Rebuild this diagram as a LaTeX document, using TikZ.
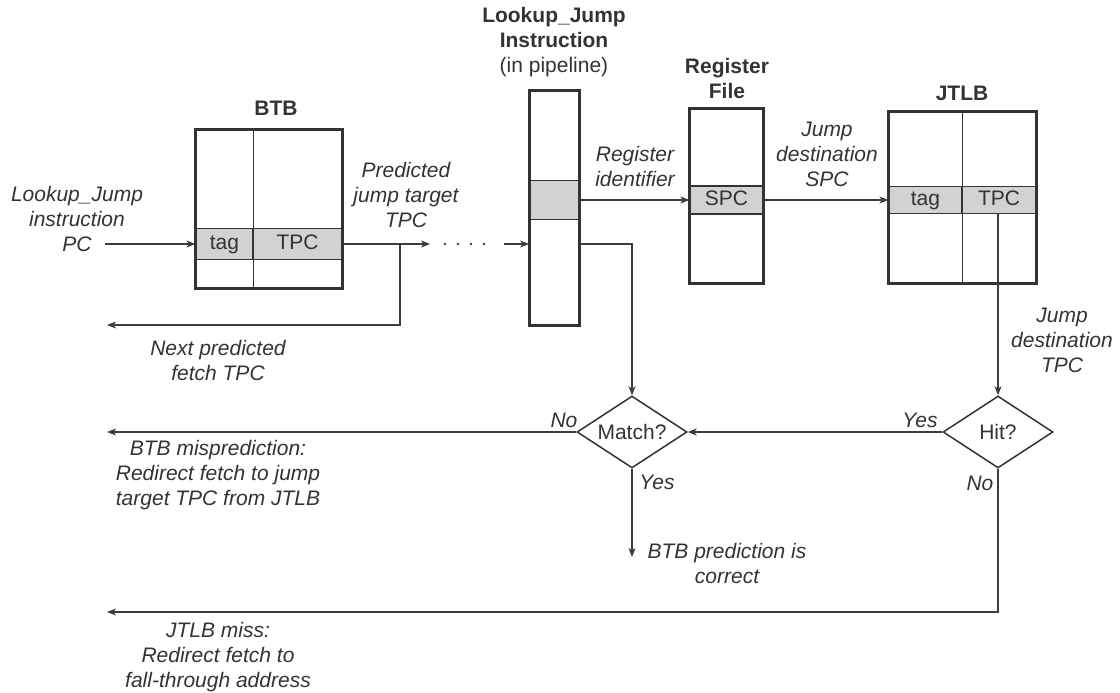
\documentclass[tikz,border=0pt]{standalone}
\usepackage{fontspec}
\setmainfont{Liberation Sans}
\usetikzlibrary{shapes.geometric,arrows.meta}
\definecolor{lc}{HTML}{333333}
\definecolor{ac}{HTML}{3C3C3C}
\definecolor{tc}{HTML}{333333}
\definecolor{cellgray}{HTML}{D2D2D2}
\tikzset{
  outerbox/.style={draw=lc, line width=1.8pt, fill=white, inner sep=0pt},
  cell/.style={draw=lc, line width=1.3pt, fill=cellgray, inner sep=0pt, text=tc,
    text height=15pt, text depth=4pt,
    font=\fontsize{21}{25}\selectfont},
  lbl/.style={align=center, text=tc, inner sep=0pt, font=\fontsize{21}{25}\selectfont\itshape},
  ttl/.style={align=center, text=tc, inner sep=0pt, font=\fontsize{21}{25}\selectfont\bfseries},
  arr/.style={draw=ac, line width=1.1pt, -{Stealth[length=9pt,width=7pt,inset=2.5pt]}},
  ln/.style={draw=ac, line width=1.1pt},
  divline/.style={draw=lc, line width=1.2pt},
  dec/.style={diamond, draw=lc, line width=1.5pt, fill=white, aspect=1.53,
    minimum width=110pt, minimum height=72pt, inner sep=0pt, text=tc,
    font=\fontsize{21}{25}\selectfont},
}
\begin{document}
\begin{tikzpicture}[x=1pt,y=-1pt]
\useasboundingbox (0,0) rectangle (1120,693);

% ---------- BTB ----------
\node[outerbox, minimum width=146pt, minimum height=158pt] (btb) at (269,209) {};
\node[cell, minimum width=57pt, minimum height=31pt] (btbtag) at (224.5,244) {tag};
\node[cell, minimum width=89pt, minimum height=31pt] (btbtpc) at (297.5,244) {TPC};
\draw[divline] (btbtag.east |- btb.north) -- (btbtag.east |- btb.south);
\draw[lc, line width=1.8pt] (btb.north west) rectangle (btb.south east);
\node[ttl] (btbttl) at (276,108) {BTB};

% ---------- Pipeline ----------
\node[outerbox, minimum width=49pt, minimum height=234pt] (pipe) at (554.5,208) {};
\node[cell, minimum width=49pt, minimum height=39pt] (pipeg) at (554.5,200) {};
\draw[lc, line width=1.8pt] (pipe.north west) rectangle (pipe.south east);
\node[ttl] (pipettl) at (554,42) {Lookup\_Jump\\Instruction\\\mdseries(in pipeline)};

% ---------- Register file ----------
\node[outerbox, minimum width=73pt, minimum height=174pt] (rf) at (726.5,196) {};
\node[cell, minimum width=73pt, minimum height=28pt] (spc) at (726.5,200) {SPC};
\draw[lc, line width=1.8pt] (rf.north west) rectangle (rf.south east);
\node[ttl] (rfttl) at (727,78) {Register\\File};

% ---------- JTLB ----------
\node[outerbox, minimum width=147pt, minimum height=171pt] (jtlb) at (962.5,197.5) {};
\node[cell, minimum width=73pt, minimum height=27pt] (jtag) at (925.5,200) {tag};
\node[cell, minimum width=74pt, minimum height=27pt] (jtpc) at (999,200) {TPC};
\draw[divline] (jtag.east |- jtlb.north) -- (jtag.east |- jtlb.south);
\draw[lc, line width=1.8pt] (jtlb.north west) rectangle (jtlb.south east);
\node[ttl] (jtlbttl) at (962,93) {JTLB};

% ---------- Decisions ----------
\node[dec] (match) at (632,432) {Match?};
\node[dec] (hit) at (998,432) {Hit?};

% ---------- Labels ----------
\node[lbl] (pclbl) at (77,219) {Lookup\_Jump\\instruction\\PC};
\node[lbl] (predlbl) at (406,195) {Predicted\\jump target\\TPC};
\node[lbl] (nextlbl) at (218,360) {Next predicted\\fetch TPC};
\node[lbl] (reglbl) at (635,166) {Register\\identifier};
\node[lbl] (spclbl) at (827,154) {Jump\\destination\\SPC};
\node[lbl] (tpclbl) at (1062,340) {Jump\\destination\\TPC};
\node[lbl] (no1) at (564,420) {No};
\node[lbl] (yes1) at (657,482) {Yes};
\node[lbl] (yes2) at (920,420) {Yes};
\node[lbl] (no2) at (980,483) {No};
\node[lbl] (oklbl) at (727,563) {BTB prediction is\\correct};
\node[lbl] (mislbl) at (218,475) {BTB misprediction:\\Redirect fetch to jump\\target TPC from JTLB};
\node[lbl] (misslbl) at (218,657) {JTLB miss:\\Redirect fetch to\\fall-through address};

% ---------- Coordinates ----------
\coordinate (pcs) at (105,244);
\coordinate (tgt) at (430,244);
\coordinate (j1) at (400,244);
\coordinate (nextf) at (107,325);
\coordinate (dotsend) at (504,244);
\coordinate (pj) at (632,244);
\coordinate (mis) at (107,432);
\coordinate (ok) at (632,557);
\coordinate (miss) at (107,612);

% ---------- Connectors ----------
\draw[arr] (pcs) -- (btbtag.west);
\draw[arr] (btbtpc.east) -- (tgt);
\draw[arr] (j1) |- (nextf);
\foreach \x in {445,458,471,484} \fill[ac] (\x,244) circle (1.3pt);
\draw[arr] (dotsend) -- (pipe.west |- dotsend);
\draw[arr] (pipeg.east) -- (spc.west);
\draw[arr] (spc.east) -- (jtag.west);
\draw[arr] (pipe.east |- pj) -| (match.north);
\draw[arr] (hit.north |- jtpc.south) -- (hit.north);
\draw[arr] (hit.west) -- (match.east);
\draw[arr] (match.west) -- (mis);
\draw[arr] (match.south) -- (ok);
\draw[arr] (hit.south) |- (miss);
\end{tikzpicture}
\end{document}
